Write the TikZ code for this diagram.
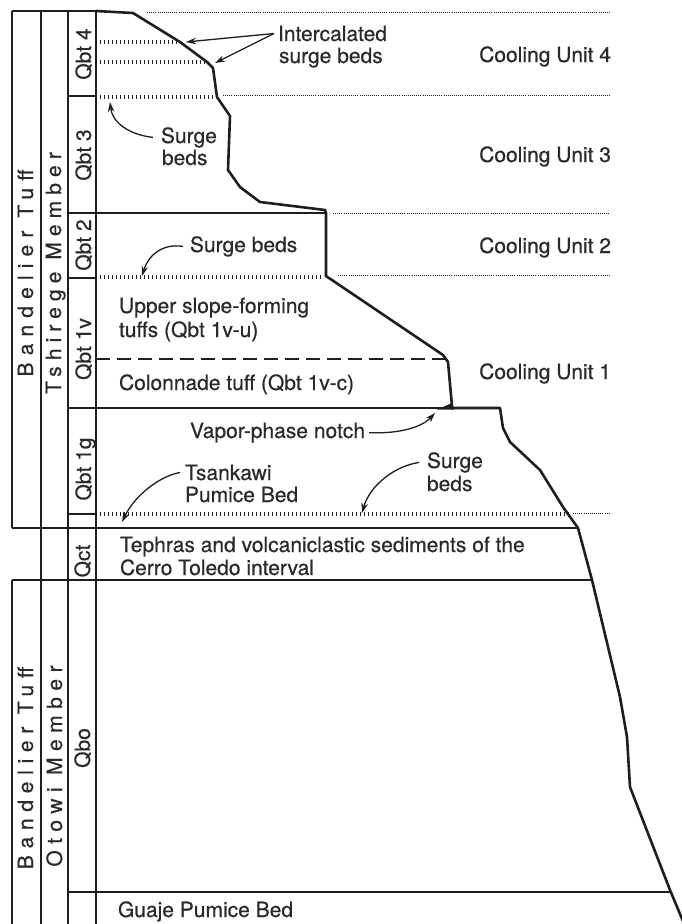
\documentclass[tikz,border=0pt]{standalone}
\usepackage{fontspec}
\setmainfont{TeX Gyre Heros}[FakeBold=0.5]
\usetikzlibrary{arrows.meta}
\definecolor{ink}{HTML}{1E1E1E}
\definecolor{txt}{HTML}{2A2A2A}
\begin{document}
\begin{tikzpicture}[x=1pt,y=-1pt,
  lbl/.style={font=\fontsize{21}{25}\selectfont, text=txt, inner sep=0pt, outer sep=0pt},
  rlbl/.style={lbl, rotate=90, anchor=base},
  profile/.style={draw=ink, line width=2.6pt, line join=round, line cap=round},
  mainv/.style={draw=ink, line width=2.4pt},
  bound/.style={draw=ink, line width=2.0pt},
  thinl/.style={draw=ink, line width=1.5pt},
  surge/.style={draw=ink, line width=4.0pt, dash pattern=on 1.4pt off 2.6pt},
  cudot/.style={draw=ink, line width=1.0pt, dash pattern=on 0.9pt off 1.2pt},
  dashl/.style={draw=ink, line width=1.8pt, dash pattern=on 14pt off 7pt},
  ann/.style={draw=ink, line width=1.3pt, -{Stealth[length=10pt,width=6.5pt]}}
]
\useasboundingbox (0,0) rectangle (682,924);
\fill[white] (0,0) rectangle (682,924);

% column frame
\draw[thinl] (12,11) -- (96,11);
\draw[thinl] (12,11) -- (12,528);
\draw[thinl] (12,580) -- (12,924);
\draw[thinl] (41,11) -- (41,924);
\draw[thinl] (68,11) -- (68,924);
\draw[mainv] (96,10) -- (96,924);

% label column separators
\draw[thinl] (68,96) -- (96,96);
\draw[thinl] (68,278) -- (96,278);
\draw[thinl] (68,514) -- (96,514);

% main horizontal boundaries
\draw[bound] (68,213) -- (326,213);
\draw[bound] (68,408) -- (452,408);
\draw[bound] (12,528) -- (578,528);
\draw[bound] (12,580) -- (592,580);
\draw[bound] (68,892) -- (670,892);

% dashed boundary
\draw[dashl] (96,359) -- (445,359);

% surge beds (heavy ticks)
\draw[surge] (100,42) -- (178,42);
\draw[surge] (100,62) -- (208,62);
\draw[surge] (100,97) -- (214,97);
\draw[surge] (100,277) -- (324,277);
\draw[surge] (100,514) -- (569,514);

% cooling unit boundaries (fine dots)
\draw[cudot] (147,12) -- (610,12);
\draw[cudot] (223,95) -- (610,95);
\draw[cudot] (333,213) -- (610,213);
\draw[cudot] (338,275) -- (609,275);
\draw[cudot] (573,513) -- (609,513);

% cliff profile
\draw[profile] (96,11) -- (133,13) -- (180,42) -- (207,62) -- (213,68) -- (217,97)
  -- (230,116) -- (228,170) -- (240,187) -- (260,202) -- (325,210) -- (326,213)
  -- (326,276) -- (443,355) -- (448,362) -- (452,406) -- (452,408) -- (500,408)
  -- (503,428) -- (510,442) -- (540,470) -- (563,507)
  -- (578,528) -- (592,580) -- (620,697) -- (627,737) -- (630,787) -- (670,890) -- (685,926);
\fill[ink] (437,409.5) -- (452,403) -- (454,409.5) -- cycle;

% rotated unit labels
\node[rlbl] (bt1) at (33,273) {\addfontfeatures{LetterSpace=34}Bandelier Tuff};
\node[rlbl] (tsh) at (61,273) {\addfontfeatures{LetterSpace=29}Tshirege Member};
\node[rlbl] (bt2) at (33,768) {\addfontfeatures{LetterSpace=32}Bandelier Tuff};
\node[rlbl] (oto) at (62,766) {\addfontfeatures{LetterSpace=31}Otowi Member};
\node[rlbl] (q4) at (91,54) {Qbt 4};
\node[rlbl] (q3) at (91,155) {Qbt 3};
\node[rlbl] (q2) at (91,245) {Qbt 2};
\node[rlbl] (q1v) at (91,349) {Qbt 1v};
\node[rlbl] (q1g) at (91,469) {Qbt 1g};
\node[rlbl] (qct) at (90,561) {Qct};
\node[rlbl] (qbo) at (90,748) {Qbo};

% cooling units
\node[lbl, anchor=base east] (cu4) at (611,62) {Cooling Unit 4};
\node[lbl, anchor=base east] (cu3) at (611,162) {Cooling Unit 3};
\node[lbl, anchor=base east] (cu2) at (611,253) {Cooling Unit 2};
\node[lbl, anchor=base east] (cu1) at (611,379) {Cooling Unit 1};

% descriptive texts
\node[lbl, anchor=base west] (int1) at (278,41) {Intercalated};
\node[lbl, anchor=base west] (int2) at (279,63) {surge beds};
\node[lbl, anchor=base west] (sb3a) at (161,143) {Surge};
\node[lbl, anchor=base west] (sb3b) at (162,165) {beds};
\node[lbl, anchor=base west] (sb2) at (190,252) {Surge beds};
\node[lbl, anchor=base west] (up1) at (119,313) {Upper slope-forming};
\node[lbl, anchor=base west] (up2) at (119,337) {tuffs (Qbt 1v-u)};
\node[lbl, anchor=base west] (col) at (119,390) {Colonnade tuff (Qbt 1v-c)};
\node[lbl, anchor=base west] (vap) at (190,438) {Vapor-phase notch};
\node[lbl, anchor=base west] (tsa1) at (185,480) {Tsankawi};
\node[lbl, anchor=base west] (tsa2) at (185,502) {Pumice Bed};
\node[lbl, anchor=base west] (sb1a) at (427,468) {Surge};
\node[lbl, anchor=base west] (sb1b) at (427,491) {beds};
\node[lbl, anchor=base west] (teph1) at (120,552) {Tephras and volcaniclastic sediments of the};
\node[lbl, anchor=base west] (teph2) at (120,575) {Cerro Toledo interval};
\node[lbl, anchor=base west] (guaje) at (118,917) {Guaje Pumice Bed};

% arrow targets
\coordinate (t4a) at (186,42);
\coordinate (t4b) at (215,63);
\coordinate (t3) at (110,102);
\coordinate (t2) at (142,276);
\coordinate (tnotch) at (435,413);
\coordinate (ttsa) at (122,522);
\coordinate (t1g) at (362,513);

% annotation arrows
\draw[ann] ([xshift=-4pt]int1.west) -- (t4a);
\draw[ann] ([xshift=-4pt]int1.west) -- (t4b);
\draw[ann] ([xshift=-8pt]sb3a.west) .. controls (125,134) and (112,120) .. (t3);
\draw[ann] ([xshift=-7pt]sb2.west) .. controls (162,243) and (148,256) .. (t2);
\draw[ann] ([xshift=4pt]vap.east) .. controls (400,434) and (422,427) .. (tnotch);
\draw[ann] ([xshift=-5pt]tsa1.west) .. controls (160,476) and (135,495) .. (ttsa);
\draw[ann] ([xshift=-8pt]sb1a.west) .. controls (395,466) and (370,485) .. (t1g);
\end{tikzpicture}
\end{document}
